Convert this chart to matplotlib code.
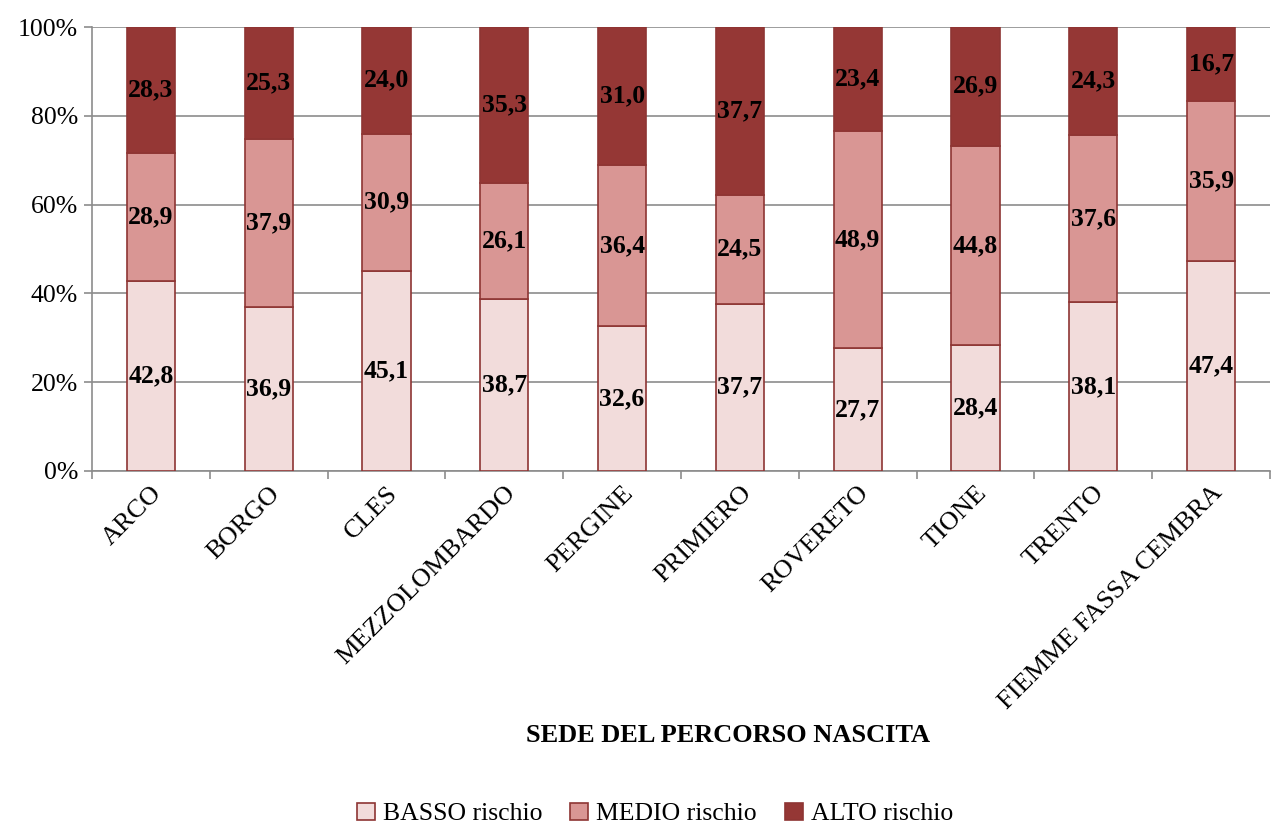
import matplotlib.pyplot as plt
import numpy as np

plt.rcParams['font.family'] = ['Liberation Serif', 'DejaVu Serif']

sedi = ["ARCO", "BORGO", "CLES", "MEZZOLOMBARDO", "PERGINE", "PRIMIERO",
        "ROVERETO", "TIONE", "TRENTO", "FIEMME FASSA CEMBRA"]
basso = [42.8, 36.9, 45.1, 38.7, 32.6, 37.7, 27.7, 28.4, 38.1, 47.4]
medio = [28.9, 37.9, 30.9, 26.1, 36.4, 24.5, 48.9, 44.8, 37.6, 35.9]
alto = [28.3, 25.3, 24.0, 35.3, 31.0, 37.7, 23.4, 26.9, 24.3, 16.7]
serie_nomi = ["BASSO rischio", "MEDIO rischio", "ALTO rischio"]
colori = ["#F2DCDB", "#D99694", "#953735"]
bordo = "#8E3533"

fig = plt.figure(figsize=(12.71, 8.26), dpi=100)
ax = fig.add_axes([92 / 1271, 1 - 471 / 826, (1270 - 92) / 1271, (471 - 27) / 826])

x = np.arange(len(sedi))
fondo = np.zeros(len(sedi))
for valori, nome, col in zip([basso, medio, alto], serie_nomi, colori):
    ax.bar(x, valori, 0.41, bottom=fondo, color=col, edgecolor=bordo,
           linewidth=1.2, label=nome, zorder=3)
    for xi, v, b in zip(x, valori, fondo):
        ax.text(xi, b + v / 2, f"{v:.1f}".replace(".", ","), ha="center", va="center",
                fontsize=18.5, fontweight="bold", zorder=4)
    fondo = fondo + np.array(valori)

ax.set_xlim(-0.5, len(sedi) - 0.5)
ax.set_ylim(0, 100)
ax.set_yticks(range(0, 101, 20))
ax.set_yticklabels([f"{v}%" for v in range(0, 101, 20)], fontsize=18.5)
ax.grid(axis="y", color="#8C8C8C", linewidth=1.2, zorder=0)
ax.tick_params(axis="y", length=6, color="#8C8C8C", width=1.2, pad=4)

ax.set_xticks(np.arange(-0.5, len(sedi), 1), minor=False)
ax.set_xticklabels([])
ax.set_xticks(x, minor=True)
ax.set_xticklabels(sedi, minor=True, rotation=45, ha="right", va="top",
                   rotation_mode="anchor", fontsize=19)
ax.tick_params(axis="x", which="major", length=6, color="#8C8C8C", width=1.2)
ax.tick_params(axis="x", which="minor", length=0, pad=8)

for lato in ["top", "right"]:
    ax.spines[lato].set_visible(False)
for lato in ["left", "bottom"]:
    ax.spines[lato].set_color("#8C8C8C")
    ax.spines[lato].set_linewidth(1.2)

fig.text(728 / 1271, 1 - 735 / 826, "SEDE DEL PERCORSO NASCITA", ha="center",
         va="center", fontsize=19, fontweight="bold")

fig.legend(loc="center", bbox_to_anchor=(655 / 1271, 1 - 814 / 826), ncol=3,
           frameon=False, fontsize=18.5, handlelength=0.7, handleheight=0.7,
           handletextpad=0.3, columnspacing=1.1)

fig.savefig("out.png", dpi=100)
